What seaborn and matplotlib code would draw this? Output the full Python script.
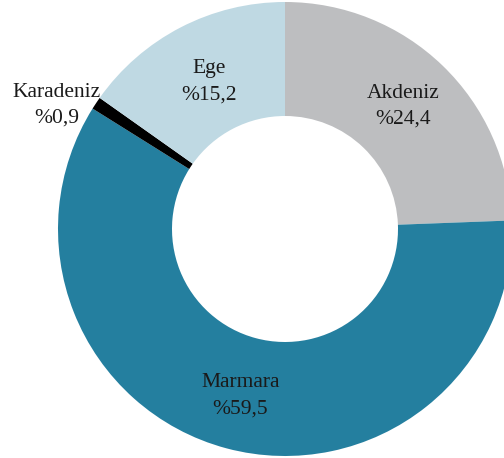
import numpy as np
import seaborn as sns
import matplotlib.pyplot as plt

regions = ["Akdeniz", "Marmara", "Karadeniz", "Ege"]
shares = [24.4, 59.5, 0.9, 15.2]
colors = ["#bdbec0", "#247f9f", "#000000", "#bfd9e3"]

sns.set_theme(style="white")
plt.rcParams['font.family'] = ['Liberation Serif', 'DejaVu Serif']

fig = plt.figure(figsize=(5.04, 4.58), dpi=100)
ax = fig.add_axes([0, 0, 1, 1])

wedges, _ = ax.pie(shares, colors=sns.color_palette(colors), startangle=90,
                   counterclock=False, center=(285, 229), radius=227,
                   wedgeprops=dict(width=114, linewidth=0), frame=True)

# label distance relative to the radius, Karadeniz sits outside the ring
label_r = [0.75, 0.76, 1.143, 0.73]
label_shift = [0, 0, 5.2, 0]
for w, name, val, r, sh in zip(wedges, regions, shares, label_r, label_shift):
    ang = np.deg2rad((w.theta1 + w.theta2) / 2 + sh)
    x = 285 + 227 * r * np.cos(ang)
    y = 229 + 227 * r * np.sin(ang)
    ax.text(x, y, f"{name}\n%{val:.1f}".replace(".", ","), ha="center", va="center",
            fontsize=15.5, color="#1a1a1a", linespacing=1.5)

ax.set_xlim(0, 504)
ax.set_ylim(0, 458)
ax.set_aspect("equal")
ax.axis("off")

fig.savefig("out.png", dpi=100)
